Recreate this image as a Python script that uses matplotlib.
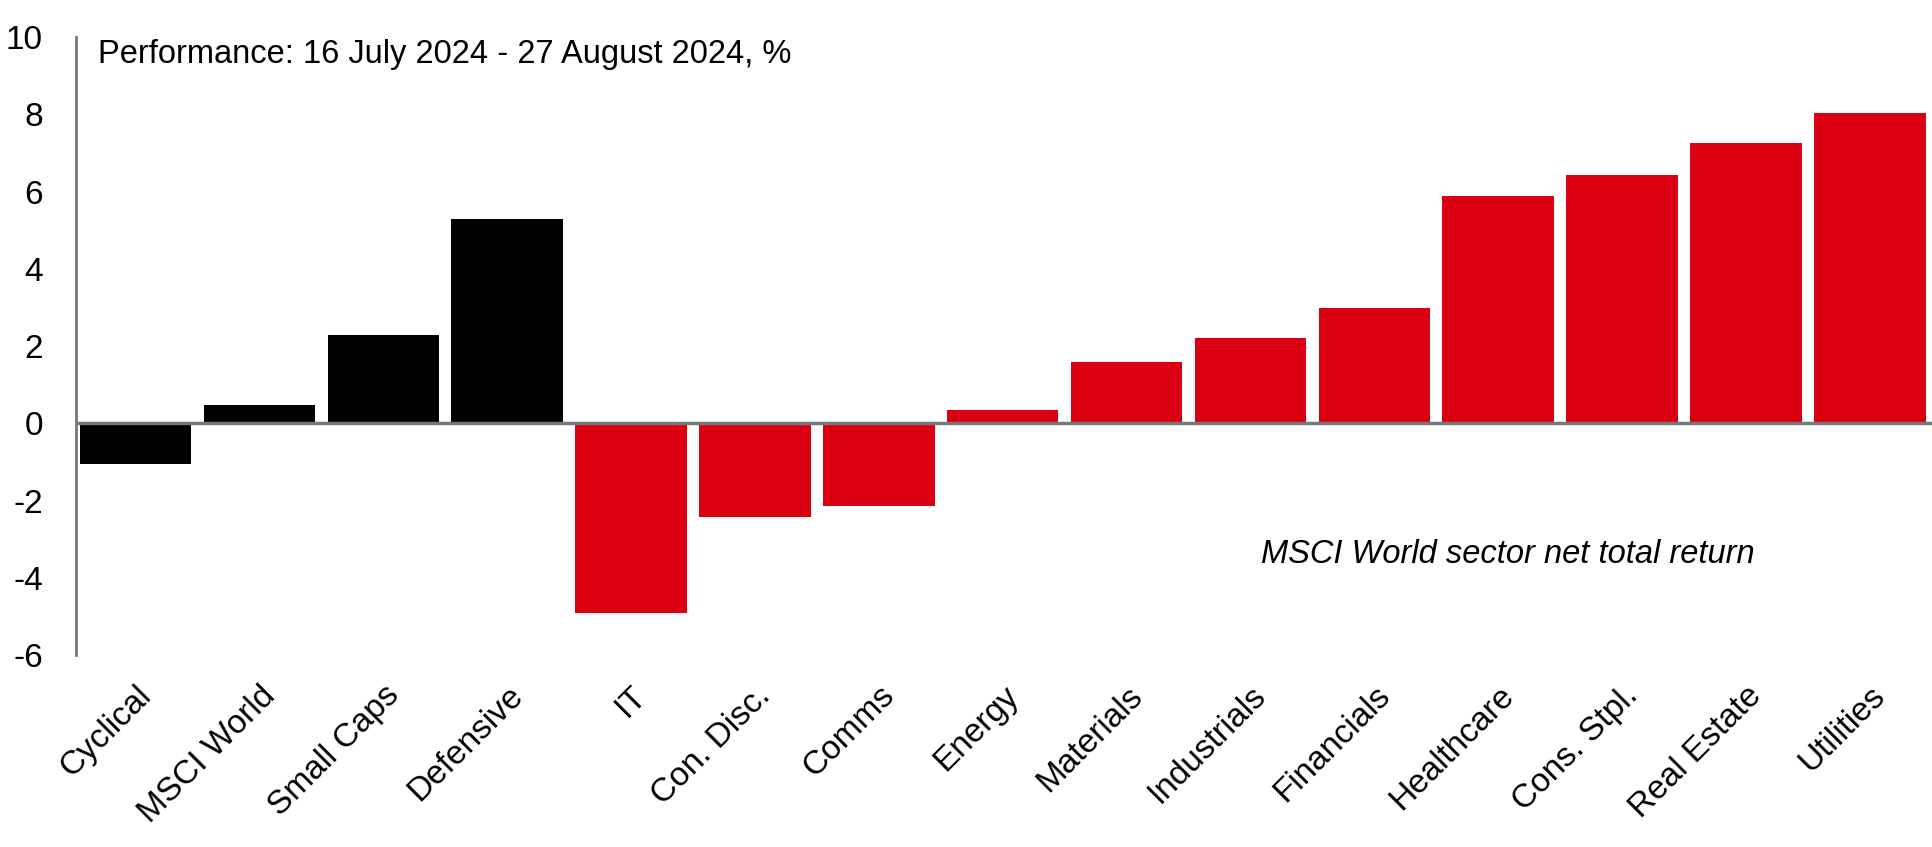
import matplotlib
matplotlib.use('Agg')
import matplotlib.pyplot as plt
import numpy as np

plt.rcParams['font.family'] = ['Liberation Sans', 'DejaVu Sans']
plt.rcParams['axes.unicode_minus'] = False

sectors = ['Cyclical', 'MSCI World', 'Small Caps', 'Defensive', 'IT', 'Con. Disc.',
           'Comms', 'Energy', 'Materials', 'Industrials', 'Financials', 'Healthcare',
           'Cons. Stpl.', 'Real Estate', 'Utilities']
returns = [-1.05, 0.48, 2.3, 5.3, -4.92, -2.43, -2.14, 0.35, 1.6, 2.2, 3.0, 5.9, 6.42, 7.25, 8.05]
groups = ['black'] * 4 + ['red'] * 11

title = 'Performance: 16 July 2024 - 27 August 2024, %'
note = 'MSCI World sector net total return'

colmap = {'black': '#000000', 'red': '#DB0011'}

fig = plt.figure(figsize=(19.33, 8.47), dpi=100)
ax = fig.add_axes([0.0394, 0.2267, 0.9606, 0.7293])

x = np.arange(len(sectors))
ax.bar(x, returns, width=0.9, color=[colmap[g] for g in groups], zorder=2)
ax.axhline(0, color='#777777', lw=2.5, zorder=3)

ax.set_xlim(-0.48, 14.51)
ax.set_ylim(-6, 10)
ax.set_yticks(range(-6, 11, 2))
ax.set_xticks(x)
ax.set_xticklabels(sectors, rotation=45, ha='right', rotation_mode='anchor', fontsize=24)
ax.tick_params(axis='both', length=0, colors='black')
ax.tick_params(axis='y', labelsize=24, pad=24)
ax.tick_params(axis='x', pad=18)

for s in ['top', 'right', 'bottom']:
    ax.spines[s].set_visible(False)
ax.spines['left'].set_color('#777777')
ax.spines['left'].set_linewidth(2)

ax.text(-0.30, 9.55, title, fontsize=23.5, va='center', ha='left')
ax.text(11.08, -3.39, note, fontsize=23.5, va='center', ha='center', style='italic')

fig.savefig('out.png', dpi=100)
